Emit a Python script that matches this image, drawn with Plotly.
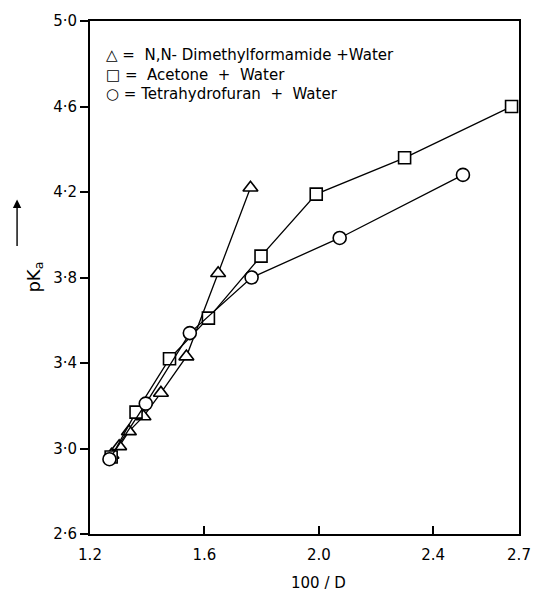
import plotly.graph_objects as go

# Data
dmf_x = [1.275, 1.302, 1.336, 1.387, 1.448, 1.537, 1.648, 1.761]
dmf_y = [2.97, 3.01, 3.08, 3.15, 3.26, 3.43, 3.82, 4.22]

acetone_x = [1.274, 1.361, 1.478, 1.614, 1.798, 1.991, 2.300, 2.674]
acetone_y = [2.96, 3.17, 3.42, 3.61, 3.90, 4.19, 4.36, 4.60]

thf_x = [1.268, 1.395, 1.549, 1.765, 2.073, 2.504]
thf_y = [2.95, 3.21, 3.54, 3.80, 3.985, 4.28]

x_ticks = [1.2, 1.6, 2.0, 2.4, 2.7]
x_tick_labels = ["1.2", "1.6", "2.0", "2.4", "2.7"]
y_ticks = [2.6, 3.0, 3.4, 3.8, 4.2, 4.6, 5.0]
y_tick_labels = ["2·6", "3·0", "3·4", "3·8", "4·2", "4·6", "5·0"]

legend_symbols = ["\u25b3", "\u25a1", "\u25cb"]
legend_texts = ["=  N,N- Dimethylformamide +Water", "=  Acetone  +  Water", "= Tetrahydrofuran  +  Water"]

FONT = "DejaVu Sans"
fig = go.Figure()

def add(xs, ys, sym, size):
    fig.add_trace(go.Scatter(
        x=xs, y=ys, mode="lines+markers",
        line=dict(color="black", width=1.3),
        marker=dict(symbol=sym, size=size, color="white",
                    line=dict(color="black", width=1.6)),
        showlegend=False, cliponaxis=False))

add(dmf_x, dmf_y, "triangle-up", 13)
add(acetone_x, acetone_y, "square", 12)
add(thf_x, thf_y, "circle", 13)

fig.update_layout(
    width=543, height=598,
    margin=dict(l=90, r=12, t=21, b=64),
    plot_bgcolor="white", paper_bgcolor="white",
    font=dict(family=FONT, size=14, color="black"),
    xaxis=dict(range=[1.2, 2.7], tickvals=x_ticks, ticktext=x_tick_labels,
               ticks="inside", ticklen=8, tickwidth=1.5, tickcolor="black",
               showline=True, linewidth=2, linecolor="black", mirror=True,
               showgrid=False, zeroline=False, tickfont=dict(size=15),
               ticklabelstandoff=6),
    yaxis=dict(range=[2.6, 5.0], tickvals=y_ticks, ticktext=y_tick_labels,
               ticks="outside", ticklen=8, tickwidth=1.5, tickcolor="black",
               showline=True, linewidth=2, linecolor="black", mirror=True,
               showgrid=False, zeroline=False, tickfont=dict(size=15)),
)

# x-axis title
fig.add_annotation(text="100 / D", xref="paper", yref="paper",
                   x=0.533, y=-0.075, yanchor="top", showarrow=False,
                   font=dict(size=15))

# y-axis title with arrow
fig.add_annotation(text="pK<sub>a</sub>", xref="paper", yref="paper",
                   x=-0.163, y=0.50, textangle=-90, showarrow=False,
                   yanchor="middle", font=dict(size=18))
fig.add_annotation(xref="paper", yref="paper",
                   x=-0.170, y=0.652, ax=0, ay=48, text="",
                   showarrow=True, arrowhead=2, arrowsize=1.2, arrowwidth=1.4,
                   arrowcolor="black")

# legend key (one multi-line block)
lines = [f"{s} {t}" for s, t in zip(legend_symbols, legend_texts)]
fig.add_annotation(text="<br>".join(lines), xref="paper", yref="paper",
                   x=0.033, y=0.955, xanchor="left", yanchor="top",
                   align="left", showarrow=False, font=dict(size=15))

fig.write_html("out.html")
